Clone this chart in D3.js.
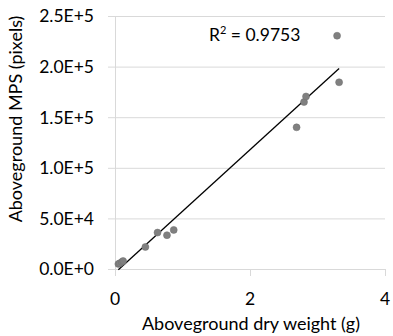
<!DOCTYPE html>
<html>
<head>
<meta charset="utf-8">
<script src="https://cdn.jsdelivr.net/npm/d3@7"></script>
<style>
    body { margin: 0; background: #fff; }
    svg { display: block; font-family: Lato, "Open Sans", sans-serif; }
</style>
</head>
<body>
<div id="chart"></div>
<script>
// dry weight (g) vs MPS (pixels)
const dryWeight = [0.05, 0.07, 0.10, 0.12, 0.45, 0.63, 0.77, 0.87, 2.69, 2.80, 2.83, 3.29, 3.32];
const mps = [5000, 5600, 6900, 7900, 21800, 36000, 33400, 38600, 140000, 165000, 170500, 230500, 184500];
const xTicks = [0, 2, 4];
const yTicks = [0, 50000, 100000, 150000, 200000, 250000];
const rSquaredLabel = "0.9753";

const width = 393, height = 336;
const margin = {top: 16, right: 8, bottom: 67, left: 115};

const svg = d3.select('#chart')
    .append('svg')
    .attr("width", width)
    .attr("height", height);

const x = d3.scaleLinear().domain([0, 4]).range([margin.left, width - margin.right]);
const y = d3.scaleLinear().domain([0, 250000]).range([height - margin.bottom, margin.top]);

// horizontal gridlines + little tick stubs on the left
svg.append("g")
    .selectAll("line")
    .data(yTicks)
    .join("line")
    .attr("x1", margin.left - 7)
    .attr("x2", x(4))
    .attr("y1", d => y(d) + 0.5)
    .attr("y2", d => y(d) + 0.5)
    .attr("stroke", "#d9d9d9")
    .attr("stroke-width", 1);

// vertical axis line
svg.append("line")
    .attr("x1", x(0) + 0.5).attr("x2", x(0) + 0.5)
    .attr("y1", y(250000)).attr("y2", y(0) + 7)
    .attr("stroke", "#d9d9d9");

// x tick stubs
svg.append("g")
    .selectAll("line")
    .data(xTicks)
    .join("line")
    .attr("x1", d => x(d) + 0.5)
    .attr("x2", d => x(d) + 0.5)
    .attr("y1", y(0))
    .attr("y2", y(0) + 7)
    .attr("stroke", "#d9d9d9");

// tick labels
const fmtY = d => {
    if (d === 0) return "0.0E+0";
    const e = Math.floor(Math.log10(d));
    return (d / Math.pow(10, e)).toFixed(1) + "E+" + e;
};

svg.append("g")
    .selectAll("text")
    .data(yTicks)
    .join("text")
    .attr("x", margin.left - 21)
    .attr("y", d => y(d))
    .attr("dy", "0.36em")
    .attr("text-anchor", "end")
    .attr("font-size", 17.5)
    .attr("fill", "#000")
    .text(fmtY);

svg.append("g")
    .selectAll("text")
    .data(xTicks)
    .join("text")
    .attr("x", d => x(d))
    .attr("y", 305)
    .attr("text-anchor", "middle")
    .attr("font-size", 17.5)
    .attr("fill", "#000")
    .text(d => d);

// axis titles
svg.append("text")
    .attr("x", 251)
    .attr("y", 330)
    .attr("text-anchor", "middle")
    .attr("font-size", 18)
    .text("Aboveground dry weight (g)");

svg.append("text")
    .attr("transform", "translate(22,119) rotate(-90)")
    .attr("text-anchor", "middle")
    .attr("font-size", 18)
    .text("Aboveground MPS (pixels)");

// linear trendline (least squares)
const mx = d3.mean(dryWeight), my = d3.mean(mps);
const slope = d3.sum(dryWeight, (d, i) => (d - mx) * (mps[i] - my)) / d3.sum(dryWeight, d => (d - mx) * (d - mx));
const intercept = my - slope * mx;
const [x0, x1] = d3.extent(dryWeight);

svg.append("line")
    .attr("x1", x(x0)).attr("y1", y(intercept + slope * x0))
    .attr("x2", x(x1)).attr("y2", y(intercept + slope * x1))
    .attr("stroke", "#000")
    .attr("stroke-width", 1.3);

// points
svg.append("g")
    .selectAll("circle")
    .data(dryWeight)
    .join("circle")
    .attr("cx", d => x(d))
    .attr("cy", (d, i) => y(mps[i]))
    .attr("r", 3.5)
    .attr("fill", "#808080")
    .attr("stroke", "#6e6e6e")
    .attr("stroke-width", 0.5);

// R² label
const r2 = svg.append("text")
    .attr("x", 209)
    .attr("y", 41)
    .attr("font-size", 17.5)
    .attr("fill", "#000");
r2.append("tspan").text("R");
r2.append("tspan").attr("font-size", 11).attr("dy", -7).text("2");
r2.append("tspan").attr("dy", 7).text(" = " + rSquaredLabel);
</script>
</body>
</html>
